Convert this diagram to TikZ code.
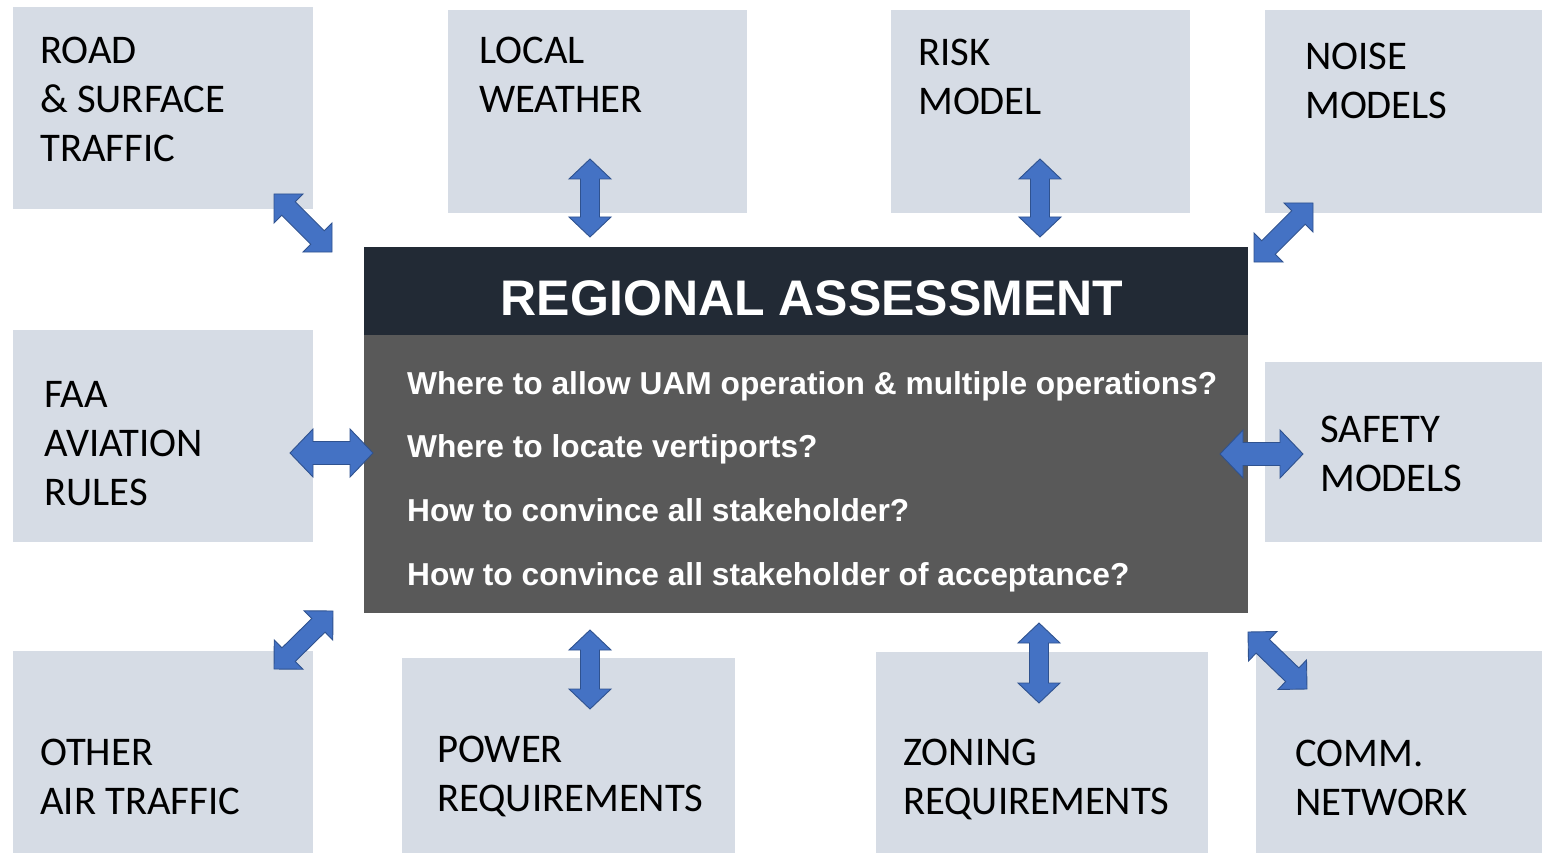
\documentclass[tikz,border=0pt]{standalone}
\usepackage{fontspec}
\setmainfont{Carlito}
\newfontfamily\arialfont{Liberation Sans}
\usetikzlibrary{calc}
\definecolor{boxfill}{HTML}{D6DCE5}
\definecolor{hdrfill}{HTML}{222A35}
\definecolor{bodyfill}{HTML}{595959}
\definecolor{arrfill}{HTML}{4472C4}
\definecolor{arrdraw}{HTML}{2F528F}
\tikzset{
  box/.style={fill=boxfill, draw=none, inner sep=0pt, anchor=north west},
  lbl/.style={anchor=north west, inner sep=0pt, align=left, text=black,
    font=\fontsize{40.7}{49}\selectfont},
  arrowshape/.style={fill=arrfill, draw=arrdraw, line width=0.9pt, line join=miter},
}
% #1 start, #2 end, #3 head half width, #4 shaft half width, #5 head length
\newcommand\dblarrow[5]{%
  \path ($(#1)!#5!(#2)$) coordinate (bhA) ($(#2)!#5!(#1)$) coordinate (bhB);
  \filldraw[arrowshape] (#1) -- ($(bhA)!#3!90:(#2)$) -- ($(bhA)!#4!90:(#2)$)
    -- ($(bhB)!#4!-90:(#1)$) -- ($(bhB)!#3!-90:(#1)$) -- (#2)
    -- ($(bhB)!#3!90:(#1)$) -- ($(bhB)!#4!90:(#1)$)
    -- ($(bhA)!#4!-90:(#2)$) -- ($(bhA)!#3!-90:(#2)$) -- cycle;}
\begin{document}
\begin{tikzpicture}[x=1pt, y=-1pt]
\useasboundingbox[fill=white] (0,0) rectangle (1542,853);
% outer boxes
\node[box, minimum width=300, minimum height=202] (road) at (13,7) {};
\node[box, minimum width=299, minimum height=203] (weather) at (448,10) {};
\node[box, minimum width=299, minimum height=203] (risk) at (891,10) {};
\node[box, minimum width=277, minimum height=203] (noise) at (1265,10) {};
\node[box, minimum width=300, minimum height=212] (faa) at (13,330) {};
\node[box, minimum width=277, minimum height=180] (safety) at (1265,362) {};
\node[box, minimum width=300, minimum height=202] (other) at (13,651) {};
\node[box, minimum width=333, minimum height=195] (power) at (402,658) {};
\node[box, minimum width=332, minimum height=201] (zoning) at (876,652) {};
\node[box, minimum width=286, minimum height=202] (comm) at (1256,651) {};
% labels
\node[lbl] (roadT) at (40,37) {ROAD\\\& SURFACE\\TRAFFIC};
\node[lbl] (weatherT) at (479,37) {LOCAL\\WEATHER};
\node[lbl] (riskT) at (918,39) {RISK\\MODEL};
\node[lbl] (noiseT) at (1305,43) {NOISE\\MODELS};
\node[lbl] (faaT) at (44,381) {FAA\\AVIATION\\RULES};
\node[lbl] (safetyT) at (1320,416) {SAFETY\\MODELS};
\node[lbl] (otherT) at (40,739) {OTHER\\AIR TRAFFIC};
\node[lbl] (powerT) at (437,736) {POWER\\REQUIREMENTS};
\node[lbl] (zoningT) at (903,739) {ZONING\\REQUIREMENTS};
\node[lbl] (commT) at (1295,740) {COMM.\\NETWORK};
% central block
\node[fill=hdrfill, inner sep=0pt, anchor=north west, minimum width=884, minimum height=88] (hdr) at (364,247) {};
\node[fill=bodyfill, inner sep=0pt, anchor=north west, minimum width=884, minimum height=278] (body) at (364,335) {};
\node[text=white, inner sep=0pt, font=\arialfont\bfseries\fontsize{50}{60}\selectfont] (title) at (812,298) {REGIONAL ASSESSMENT};
\node[text=white, inner sep=0pt, anchor=north west, align=left,
  font=\arialfont\bfseries\fontsize{31.7}{63.7}\selectfont] (questions) at (407,371)
  {Where to allow UAM operation \& multiple operations?\\
   Where to locate vertiports?\\
   How to convince all stakeholder?\\
   How to convince all stakeholder of acceptance?};
% arrow end points
\coordinate (a1s) at (274,194); \coordinate (a1e) at (332,252);
\coordinate (a2s) at (590,159); \coordinate (a2e) at (590,237);
\coordinate (a3s) at (1040,159); \coordinate (a3e) at (1040,237);
\coordinate (a4s) at (1313,203); \coordinate (a4e) at (1254,262);
\coordinate (a5s) at (290,453); \coordinate (a5e) at (373,453);
\coordinate (a6s) at (1220,454); \coordinate (a6e) at (1303,454);
\coordinate (a7s) at (333,611); \coordinate (a7e) at (274,669);
\coordinate (a8s) at (590,630); \coordinate (a8e) at (590,709);
\coordinate (a9s) at (1039,623); \coordinate (a9e) at (1039,703);
\coordinate (a10s) at (1248,632); \coordinate (a10e) at (1307,689);
% arrows
\dblarrow{a1s}{a1e}{20.5pt}{9.5pt}{20.5pt}
\dblarrow{a2s}{a2e}{21pt}{9.5pt}{20pt}
\dblarrow{a3s}{a3e}{21pt}{9.5pt}{20pt}
\dblarrow{a4s}{a4e}{20.5pt}{9.5pt}{20.5pt}
\dblarrow{a5s}{a5e}{24pt}{11.5pt}{23pt}
\dblarrow{a6s}{a6e}{24pt}{11.5pt}{23pt}
\dblarrow{a7s}{a7e}{20.5pt}{9.5pt}{20.5pt}
\dblarrow{a8s}{a8e}{21pt}{9.5pt}{20pt}
\dblarrow{a9s}{a9e}{21pt}{9.5pt}{20pt}
\dblarrow{a10s}{a10e}{20.5pt}{9.5pt}{20.5pt}
\end{tikzpicture}
\end{document}
